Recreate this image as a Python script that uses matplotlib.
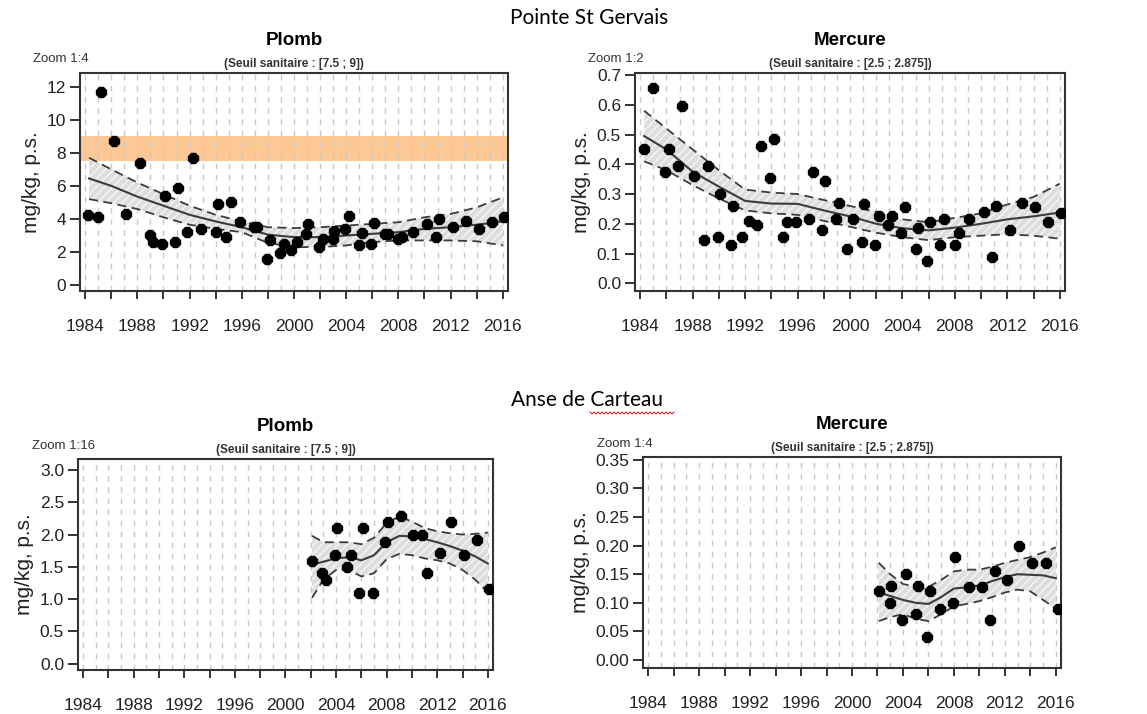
import matplotlib
matplotlib.use("Agg")
import matplotlib.pyplot as plt
import numpy as np

plt.rcParams['font.family'] = ['Liberation Sans', 'DejaVu Sans']
plt.rcParams['hatch.linewidth'] = 1.2

# ---- Pointe St Gervais, Plomb
pb1_years = [1984.25, 1985.0, 1985.2, 1986.2, 1987.1, 1988.2, 1989.0, 1989.2, 1989.9, 1990.1,
             1990.9, 1991.1, 1991.8, 1992.3, 1992.9, 1994.0, 1994.2, 1994.8, 1995.2, 1995.9,
             1996.9, 1997.2, 1997.9, 1998.2, 1998.9, 1999.2, 1999.8, 2000.2, 2000.9, 2001.1,
             2001.9, 2002.2, 2003.0, 2003.1, 2003.9, 2004.2, 2005.0, 2005.2, 2005.9, 2006.1,
             2007.0, 2007.2, 2008.0, 2008.3, 2009.1, 2010.2, 2010.9, 2011.1, 2012.2, 2013.2,
             2014.2, 2015.2, 2016.1]
pb1_vals = [4.25, 4.1, 11.65, 8.7, 4.3, 7.4, 3.0, 2.6, 2.5, 5.4,
            2.6, 5.9, 3.2, 7.7, 3.4, 3.2, 4.9, 2.9, 5.0, 3.8,
            3.5, 3.5, 1.55, 2.7, 1.95, 2.5, 2.1, 2.6, 3.1, 3.7,
            2.3, 2.8, 2.8, 3.3, 3.4, 4.2, 2.45, 3.15, 2.5, 3.75,
            3.1, 3.1, 2.8, 2.9, 3.2, 3.7, 2.9, 4.0, 3.5, 3.9,
            3.4, 3.8, 4.1]
pb1_trend_x = [1984.3, 1986, 1988, 1990, 1992, 1994, 1996, 1998, 2000, 2002, 2004, 2006, 2008, 2010, 2012, 2014, 2016]
pb1_trend = [6.45, 6.0, 5.35, 4.8, 4.25, 3.85, 3.5, 3.05, 2.9, 2.9, 3.0, 3.1, 3.2, 3.4, 3.5, 3.65, 3.85]
pb1_upper = [7.7, 7.0, 6.2, 5.5, 4.8, 4.25, 3.85, 3.5, 3.45, 3.5, 3.6, 3.7, 3.8, 4.1, 4.3, 4.7, 5.3]
pb1_lower = [5.2, 4.95, 4.6, 4.1, 3.65, 3.4, 3.2, 2.55, 2.3, 2.3, 2.4, 2.6, 2.7, 2.7, 2.7, 2.65, 2.4]

# ---- Pointe St Gervais, Mercure
hg1_years = [1984.3, 1985.0, 1985.9, 1986.2, 1986.9, 1987.2, 1988.1, 1989.2, 1988.9, 1989.9,
             1990.1, 1990.9, 1991.1, 1991.8, 1992.3, 1992.9, 1993.2, 1993.9, 1994.2, 1994.9,
             1995.2, 1995.9, 1996.9, 1997.2, 1997.9, 1998.1, 1998.9, 1999.2, 1999.8, 2000.2,
             2000.9, 2001.1, 2001.9, 2002.2, 2002.9, 2003.2, 2003.9, 2004.2, 2005.0, 2005.2,
             2005.9, 2006.1, 2006.9, 2007.2, 2008.0, 2008.3, 2009.1, 2010.2, 2010.8, 2011.1,
             2012.2, 2013.1, 2014.1, 2015.1, 2016.1]
hg1_vals = [0.45, 0.655, 0.375, 0.45, 0.395, 0.595, 0.36, 0.395, 0.145, 0.155,
            0.30, 0.13, 0.26, 0.155, 0.21, 0.195, 0.46, 0.355, 0.485, 0.155,
            0.205, 0.205, 0.215, 0.375, 0.18, 0.345, 0.215, 0.27, 0.115, 0.215,
            0.14, 0.265, 0.13, 0.225, 0.195, 0.225, 0.17, 0.255, 0.115, 0.185,
            0.075, 0.205, 0.13, 0.215, 0.13, 0.17, 0.215, 0.24, 0.09, 0.26,
            0.18, 0.27, 0.255, 0.205, 0.235]
hg1_trend_x = [1984.3, 1986, 1988, 1990, 1992, 1994, 1996, 1998, 2000, 2002, 2004, 2006, 2008, 2010, 2012, 2014, 2016]
hg1_trend = [0.495, 0.45, 0.375, 0.325, 0.277, 0.268, 0.267, 0.245, 0.225, 0.2, 0.185, 0.178, 0.187, 0.2, 0.215, 0.225, 0.238]
hg1_upper = [0.58, 0.52, 0.45, 0.38, 0.315, 0.305, 0.30, 0.28, 0.26, 0.24, 0.215, 0.205, 0.22, 0.235, 0.265, 0.29, 0.335]
hg1_lower = [0.41, 0.38, 0.33, 0.285, 0.245, 0.235, 0.23, 0.21, 0.19, 0.17, 0.155, 0.145, 0.155, 0.16, 0.165, 0.16, 0.15]

# ---- Anse de Carteau, Plomb
pb2_years = [2002.1, 2002.9, 2003.2, 2003.9, 2004.1, 2004.9, 2005.2, 2005.8, 2006.1, 2006.9,
             2007.9, 2008.1, 2009.1, 2010.1, 2010.8, 2011.2, 2012.2, 2013.1, 2014.1, 2015.1, 2016.1]
pb2_vals = [1.59, 1.40, 1.30, 1.69, 2.10, 1.50, 1.69, 1.10, 2.10, 1.10,
            1.89, 2.19, 2.29, 2.0, 1.99, 1.41, 1.72, 2.19, 1.69, 1.92, 1.16]
pb2_trend_x = [2002.1, 2003, 2004, 2005, 2006, 2007, 2008, 2009, 2010, 2011, 2012, 2013, 2014, 2015, 2016]
pb2_trend = [1.53, 1.58, 1.63, 1.65, 1.60, 1.68, 1.88, 1.98, 1.97, 1.93, 1.88, 1.82, 1.75, 1.66, 1.55]
pb2_upper = [1.98, 1.88, 1.88, 1.88, 1.85, 1.95, 2.18, 2.28, 2.2, 2.1, 2.05, 2.02, 2.0, 2.01, 2.03]
pb2_lower = [1.02, 1.3, 1.45, 1.45, 1.35, 1.4, 1.62, 1.7, 1.68, 1.63, 1.6, 1.55, 1.45, 1.3, 1.1]

# ---- Anse de Carteau, Mercure
hg2_years = [2002.1, 2003.0, 2003.1, 2003.9, 2004.2, 2005.0, 2005.2, 2005.9, 2006.1, 2006.9,
             2007.9, 2008.1, 2009.2, 2010.2, 2010.8, 2011.2, 2012.2, 2013.1, 2014.1, 2015.2, 2016.2]
hg2_vals = [0.12, 0.10, 0.13, 0.07, 0.15, 0.08, 0.13, 0.04, 0.12, 0.09,
            0.10, 0.18, 0.127, 0.127, 0.07, 0.155, 0.14, 0.20, 0.17, 0.17, 0.09]
hg2_trend_x = [2002.1, 2003, 2004, 2005, 2006, 2007, 2008, 2009, 2010, 2011, 2012, 2013, 2014, 2015, 2016]
hg2_trend = [0.118, 0.112, 0.105, 0.10, 0.098, 0.11, 0.125, 0.127, 0.13, 0.138, 0.145, 0.15, 0.149, 0.148, 0.143]
hg2_upper = [0.17, 0.15, 0.133, 0.128, 0.128, 0.14, 0.155, 0.158, 0.158, 0.163, 0.17, 0.175, 0.18, 0.188, 0.197]
hg2_lower = [0.068, 0.075, 0.08, 0.072, 0.068, 0.08, 0.094, 0.098, 0.103, 0.11, 0.118, 0.123, 0.12, 0.105, 0.09]

seuil_pb = (7.5, 9.0)
year_ticks = list(range(1984, 2017, 2))
year_labels = [str(y) if (y - 1984) % 4 == 0 else '' for y in year_ticks]


def panel(rect, x, y, tx, tm, tu, tl, yticks, yfmt, ylim, title, sub, zoom, band=None):
    ax = fig.add_axes(rect)
    ax.set_xlim(1983.6, 2016.4)
    ax.set_ylim(*ylim)
    if band is not None:
        ax.axhspan(band[0], band[1], color='#fdc894', lw=0, zorder=0)
    for yr in range(1984, 2017):
        ax.axvline(yr, color='#c8c8c8', lw=1.0, ls=(0, (4, 4)), zorder=1)
    ax.fill_between(tx, tl, tu, facecolor='#dddddd', edgecolor='#f3f3f3', hatch='////', lw=0, zorder=2)
    ax.plot(tx, tm, color='#3c3c3c', lw=1.5, zorder=3)
    ax.plot(tx, tu, color='#3c3c3c', lw=1.3, ls=(0, (5, 3)), zorder=3)
    ax.plot(tx, tl, color='#3c3c3c', lw=1.3, ls=(0, (5, 3)), zorder=3)
    ax.plot(x, y, marker='8', color='black', ms=8, ls='none', zorder=4)
    ax.set_xticks(year_ticks)
    ax.set_xticklabels(year_labels)
    ax.set_yticks(yticks)
    ax.set_yticklabels([yfmt.format(v) for v in yticks])
    ax.tick_params(axis='x', direction='out', length=6, width=1.3, pad=14, labelsize=12.5, colors='#222222')
    ax.tick_params(axis='y', direction='out', length=7, width=1.3, pad=3, labelsize=12.5, colors='#222222')
    for s in ax.spines.values():
        s.set_linewidth(1.5)
        s.set_color('#333333')
    ax.set_ylabel('mg/kg, p.s.', fontsize=15, color='#222222', labelpad=4)
    ax.set_title(title, fontsize=13.5, fontweight='bold', pad=20)
    ax.text(0.5, 1.012, sub, transform=ax.transAxes, ha='center', va='bottom',
            fontsize=8.5, fontweight='bold', color='#333333')
    ax.text(-0.11, 1.035, zoom, transform=ax.transAxes, ha='left', va='bottom',
            fontsize=9.5, color='#333333')
    return ax


fig = plt.figure(figsize=(11.47, 7.14), dpi=100)

panel([0.0697, 0.5924, 0.3732, 0.3054], pb1_years, pb1_vals, pb1_trend_x, pb1_trend, pb1_upper, pb1_lower,
      list(range(0, 13, 2)), '{:d}', (-0.36, 12.83), 'Plomb', '(Seuil sanitaire : [7.5 ; 9])', 'Zoom 1:4',
      band=seuil_pb)
panel([0.5536, 0.5924, 0.3749, 0.3054], hg1_years, hg1_vals, hg1_trend_x, hg1_trend, hg1_upper, hg1_lower,
      [round(0.1 * i, 1) for i in range(8)], '{:.1f}', (-0.026, 0.707), 'Mercure',
      '(Seuil sanitaire : [2.5 ; 2.875])', 'Zoom 1:2')
panel([0.068, 0.0616, 0.3618, 0.2955], pb2_years, pb2_vals, pb2_trend_x, pb2_trend, pb2_upper, pb2_lower,
      [0.5 * i for i in range(7)], '{:.1f}', (-0.1, 3.17), 'Plomb', '(Seuil sanitaire : [7.5 ; 9])', 'Zoom 1:16')
panel([0.5606, 0.0644, 0.3644, 0.2956], hg2_years, hg2_vals, hg2_trend_x, hg2_trend, hg2_upper, hg2_lower,
      [0.05 * i for i in range(8)], '{:.2f}', (-0.014, 0.355), 'Mercure',
      '(Seuil sanitaire : [2.5 ; 2.875])', 'Zoom 1:4')

fig.text(0.514, 0.975, 'Pointe St Gervais', ha='center', va='center', fontsize=15, family=['Lato', 'DejaVu Sans'])
fig.text(0.512, 0.44, 'Anse de Carteau', ha='center', va='center', fontsize=15, family=['Lato', 'DejaVu Sans'])

# red spell-check squiggle under "Carteau"
sx = np.arange(590, 675, 2.0)
sy = 413 + np.where(np.arange(len(sx)) % 2 == 0, -1.0, 1.0)
fig.add_artist(plt.Line2D(sx / 1147, 1 - sy / 714, color='#e03030', lw=0.8))

fig.savefig('out.png', dpi=100)
